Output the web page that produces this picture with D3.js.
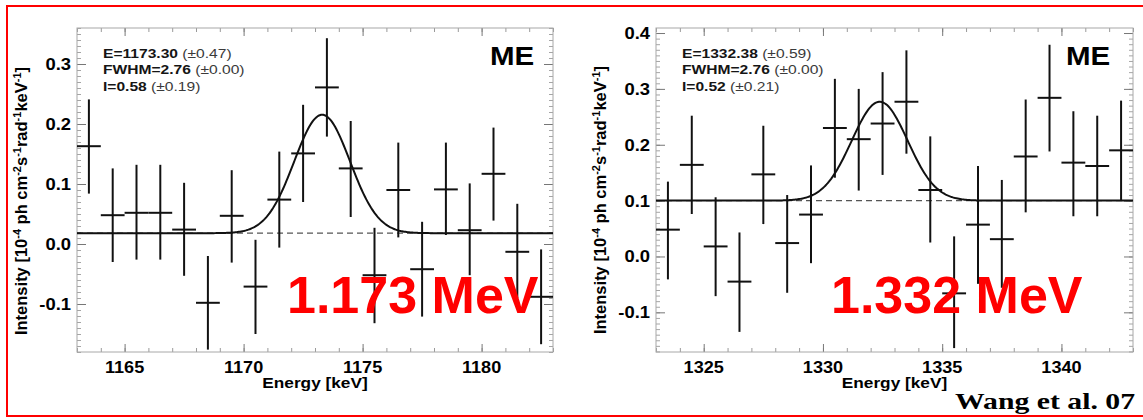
<!DOCTYPE html>
<html>
<head>
<meta charset="utf-8">
<script src="https://cdn.jsdelivr.net/npm/d3@7"></script>
<style>
  body { margin: 0; background: #fff; }
  svg { display: block; }
</style>
</head>
<body>
<svg id="fig" width="1143" height="420"></svg>
<script>
// ---- 1173 keV line (left panel) ----
const leftEnergy = [1163.5, 1164.5, 1165.5, 1166.5, 1167.5, 1168.5, 1169.5, 1170.5, 1171.5, 1172.5,
                    1173.5, 1174.5, 1175.5, 1176.5, 1177.5, 1178.5, 1179.5, 1180.5, 1181.5, 1182.5];
const leftIntensity = [0.163, 0.048, 0.052, 0.052, 0.024, -0.098, 0.047, -0.071, 0.074, 0.151,
                       0.261, 0.126, -0.052, 0.090, -0.042, 0.091, 0.023, 0.117, -0.013, -0.088];
const leftErrLow = [0.084, -0.030, -0.026, -0.026, -0.053, -0.176, -0.031, -0.150, -0.006, 0.070,
                    0.179, 0.045, -0.132, 0.011, -0.121, 0.015, -0.052, 0.039, -0.090, -0.167];
const leftErrHigh = [0.241, 0.126, 0.132, 0.132, 0.102, -0.020, 0.123, 0.007, 0.154, 0.232,
                     0.343, 0.205, 0.027, 0.169, 0.037, 0.169, 0.101, 0.194, 0.067, -0.009];
const leftFit = { energy: 1173.30, energyErr: 0.47, fwhm: 2.76, fwhmErr: 0.00, flux: 0.58, fluxErr: 0.19, continuum: 0.018 };
const leftXDomain = [1163, 1183];
const leftYDomain = [-0.18, 0.36];
const leftXTicks = [1165, 1170, 1175, 1180];
const leftYTicks = [-0.1, 0.0, 0.1, 0.2, 0.3];

// ---- 1332 keV line (right panel) ----
const rightEnergy = [1323.5, 1324.5, 1325.5, 1326.5, 1327.5, 1328.5, 1329.5, 1330.5, 1331.5, 1332.5,
                     1333.5, 1334.5, 1335.5, 1336.5, 1337.5, 1338.5, 1339.5, 1340.5, 1341.5, 1342.5];
const rightIntensity = [0.048, 0.164, 0.018, -0.045, 0.147, 0.024, 0.075, 0.230, 0.210, 0.238,
                        0.277, 0.119, -0.066, 0.057, 0.031, 0.179, 0.284, 0.168, 0.162, 0.190];
const rightErrLow = [-0.041, 0.076, -0.071, -0.135, 0.058, -0.065, -0.012, 0.141, 0.118, 0.146,
                     0.184, 0.025, -0.164, -0.049, -0.056, 0.079, 0.188, 0.072, 0.072, 0.100];
const rightErrHigh = [0.134, 0.252, 0.106, 0.043, 0.234, 0.110, 0.163, 0.318, 0.300, 0.330,
                      0.369, 0.215, 0.036, 0.162, 0.137, 0.281, 0.379, 0.260, 0.252, 0.279];
const rightFit = { energy: 1332.38, energyErr: 0.59, fwhm: 2.76, fwhmErr: 0.00, flux: 0.52, fluxErr: 0.21, continuum: 0.10 };
const rightXDomain = [1323, 1343];
const rightYDomain = [-0.171, 0.409];
const rightXTicks = [1325, 1330, 1335, 1340];
const rightYTicks = [-0.1, 0.0, 0.1, 0.2, 0.3, 0.4];

const binWidth = 1.0;   // keV
const FONT = "'Liberation Sans', Arial, Helvetica, sans-serif";

const svg = d3.select("#fig");
svg.append("rect").attr("width", 1143).attr("height", 420).attr("fill", "#fff");

// red frame around the figure
svg.append("rect")
  .attr("x", 7).attr("y", 6).attr("width", 1160).attr("height", 410)
  .attr("fill", "none").attr("stroke", "#ff0000").attr("stroke-width", 2);

// text with a horizontal stretch
function stretchedText(parent, x, y, sx, size, weight, anchor) {
  return parent.append("text")
    .attr("transform", `translate(${x},${y}) scale(${sx},1)`)
    .attr("font-family", FONT)
    .attr("font-size", size)
    .attr("font-weight", weight)
    .attr("text-anchor", anchor || "start")
    .attr("fill", "#000");
}

function drawPanel(p) {
  const g = svg.append("g");
  const x = d3.scaleLinear().domain(p.xDomain).range([p.left, p.right]);
  const y = d3.scaleLinear().domain(p.yDomain).range([p.bottom, p.top]);

  // minor / major ticks on all four sides, pointing inward
  const xMinor = d3.range(Math.ceil(p.xDomain[0]), p.xDomain[1] + 0.001, 1);
  const yMinor = d3.range(Math.ceil(p.yDomain[0] * 100), Math.floor(p.yDomain[1] * 100) + 1).map(v => v / 100);
  const addAxis = (axisGen, scale, vals, size, tx, ty, color) => {
    const a = g.append("g").attr("transform", `translate(${tx},${ty})`)
      .call(axisGen(scale).tickValues(vals).tickSizeInner(-size).tickSizeOuter(0).tickFormat(""));
    a.select(".domain").remove();
    a.selectAll("line").attr("stroke", color).attr("stroke-width", 1);
  };
  addAxis(d3.axisBottom, x, xMinor, 4, 0, p.bottom, "#9a9a9a");
  addAxis(d3.axisTop, x, xMinor, 4, 0, p.top, "#9a9a9a");
  addAxis(d3.axisBottom, x, p.xTicks, 8, 0, p.bottom, "#777");
  addAxis(d3.axisTop, x, p.xTicks, 8, 0, p.top, "#777");
  addAxis(d3.axisLeft, y, yMinor, 4, p.left, 0, "#a5a5a5");
  addAxis(d3.axisRight, y, yMinor, 4, p.right, 0, "#a5a5a5");
  addAxis(d3.axisLeft, y, p.yTicks, 9, p.left, 0, "#777");
  addAxis(d3.axisRight, y, p.yTicks, 9, p.right, 0, "#777");

  // plot box
  g.append("rect")
    .attr("x", p.left).attr("y", p.top)
    .attr("width", p.right - p.left).attr("height", p.bottom - p.top)
    .attr("fill", "none").attr("stroke", "#a8a8a8").attr("stroke-width", 1);

  // tick labels
  p.xTicks.forEach(v => {
    stretchedText(g, x(v), p.bottom + 21, 1.13, 16, "bold", "middle").text(String(v));
  });
  p.yTicks.forEach(v => {
    stretchedText(g, p.left - 6, y(v) + 6, 1.15, 16, "bold", "end").text(v.toFixed(1));
  });

  // axis titles
  stretchedText(g, (p.left + p.right) / 2, 388, 1.15, 15, "bold", "middle").text("Energy [keV]");
  const yt = g.append("text")
    .attr("transform", `translate(${p.yTitleX},${p.yTitleY}) rotate(-90)`)
    .attr("font-family", FONT).attr("font-size", 16.5).attr("font-weight", "bold")
    .attr("text-anchor", "middle").attr("fill", "#000");
  const parts = [["Intensity [10", false], ["-4", true], [" ph cm", false], ["-2", true], ["s", false],
                 ["-1", true], ["rad", false], ["-1", true], ["keV", false], ["-1", true], ["]", false]];
  let raised = false;
  parts.forEach(([t, sup]) => {
    const ts = yt.append("tspan").text(t);
    if (sup && !raised) { ts.attr("dy", -6).attr("font-size", 11); raised = true; }
    else if (sup) { ts.attr("font-size", 11); }
    else if (!sup && raised) { ts.attr("dy", 6); raised = false; }
  });

  // continuum level (dashed) and fitted gaussian + continuum (solid)
  g.append("line")
    .attr("x1", p.left).attr("x2", p.right)
    .attr("y1", y(p.fit.continuum)).attr("y2", y(p.fit.continuum))
    .attr("stroke", "#555").attr("stroke-width", 1.2).attr("stroke-dasharray", "6,4");

  const sigma = p.fit.fwhm / (2 * Math.sqrt(2 * Math.log(2)));
  const amp = p.fit.flux / (sigma * Math.sqrt(2 * Math.PI));
  const model = e => p.fit.continuum + amp * Math.exp(-((e - p.fit.energy) ** 2) / (2 * sigma * sigma));
  const grid = d3.range(p.xDomain[0], p.xDomain[1] + 0.0001, 0.05);
  g.append("path")
    .datum(grid)
    .attr("d", d3.line().x(e => x(e)).y(e => y(model(e))))
    .attr("fill", "none").attr("stroke", "#111").attr("stroke-width", 2);

  // binned data with error bars
  const bars = g.append("g").attr("stroke", "#111").attr("stroke-width", 2);
  p.energy.forEach((e, i) => {
    bars.append("line")
      .attr("x1", x(e)).attr("x2", x(e))
      .attr("y1", y(p.errLow[i])).attr("y2", y(p.errHigh[i]));
    bars.append("line")
      .attr("x1", x(e - binWidth / 2)).attr("x2", x(e + binWidth / 2))
      .attr("y1", y(p.intensity[i])).attr("y2", y(p.intensity[i]));
  });

  // fit parameters
  const lines = [
    ["E=" + p.fit.energy.toFixed(2), " (\u00b1" + p.fit.energyErr.toFixed(2) + ")"],
    ["FWHM=" + p.fit.fwhm.toFixed(2), " (\u00b1" + p.fit.fwhmErr.toFixed(2) + ")"],
    ["I=" + p.fit.flux.toFixed(2), " (\u00b1" + p.fit.fluxErr.toFixed(2) + ")"]
  ];
  lines.forEach((ln, i) => {
    const t = stretchedText(g, p.left + 26, 58 + i * 16.4, 1.2, 13, "bold", "start");
    t.append("tspan").attr("fill", "#151515").text(ln[0]);
    t.append("tspan").attr("font-weight", "normal").attr("fill", "#3a3a3a").text(ln[1]);
  });

  // detector tag
  stretchedText(g, p.meX, 65, 1.18, 25, "bold", "start").text("ME");

  // line energy
  g.append("text")
    .attr("x", p.redX).attr("y", 313)
    .attr("font-family", FONT).attr("font-size", 52).attr("font-weight", "bold")
    .attr("fill", "#ff0000").text(p.lineLabel);
}

drawPanel({
  left: 77, right: 553, top: 28, bottom: 352,
  xDomain: leftXDomain, yDomain: leftYDomain, xTicks: leftXTicks, yTicks: leftYTicks,
  energy: leftEnergy, intensity: leftIntensity, errLow: leftErrLow, errHigh: leftErrHigh,
  fit: leftFit, yTitleX: 27, yTitleY: 201, meX: 490, redX: 287, lineLabel: "1.173 MeV"
});

drawPanel({
  left: 656, right: 1133, top: 28, bottom: 352,
  xDomain: rightXDomain, yDomain: rightYDomain, xTicks: rightXTicks, yTicks: rightYTicks,
  energy: rightEnergy, intensity: rightIntensity, errLow: rightErrLow, errHigh: rightErrHigh,
  fit: rightFit, yTitleX: 606, yTitleY: 200, meX: 1066, redX: 831, lineLabel: "1.332 MeV"
});

// citation in the lower right corner
svg.append("text")
  .attr("transform", "translate(955,409) scale(1.24,1)")
  .attr("font-family", "'Liberation Serif', 'Times New Roman', serif")
  .attr("font-size", 24).attr("font-weight", "bold").attr("fill", "#000")
  .text("Wang et al. 07");
</script>
</body>
</html>
